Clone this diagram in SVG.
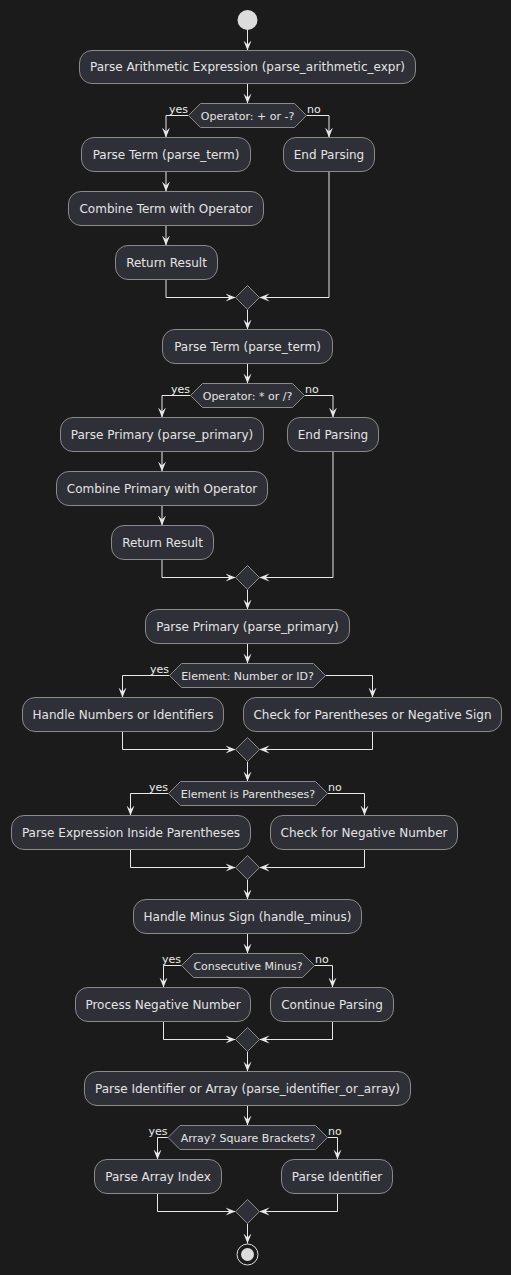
<svg xmlns="http://www.w3.org/2000/svg" width="511" height="1275" viewBox="0 0 511 1275">
<defs>
<marker id="ah" viewBox="0 0 10 10" refX="10" refY="5" markerWidth="10" markerHeight="10" markerUnits="userSpaceOnUse" orient="auto">
<path d="M0,1 L10,5 L0,9 L4,5 Z" fill="#e8e8e8"/>
</marker>
<style>
.bg{fill:#1b1b1c}
.box{fill:#2e2f37;stroke:#8a8a8a;stroke-width:1}
.t{font-family:"DejaVu Sans",sans-serif;font-size:12px;fill:#e4e4e4;text-anchor:middle}
.dt{font-family:"DejaVu Sans",sans-serif;font-size:11px;fill:#e4e4e4;text-anchor:middle}
.lbl{font-family:"DejaVu Sans",sans-serif;font-size:11px;fill:#ececec}
.e{text-anchor:end}
.c{fill:none;stroke:#e8e8e8;stroke-width:1;marker-end:url(#ah)}
</style>
</defs>
<rect class="bg" x="0" y="0" width="511" height="1275"/>

<g id="connectors">
<path class="c" d="M247.5,30 V50.5"/>
<path class="c" d="M247.5,83.5 V103.5"/>
<path class="c" d="M188.5,115.5 H166 V137.5"/>
<path class="c" d="M306.5,115.5 H329 V137.5"/>
<path class="c" d="M166,171.5 V191.5"/>
<path class="c" d="M166,225.5 V245.5"/>
<path class="c" d="M166,279.5 V297.5 H235.5"/>
<path class="c" d="M329,171.5 V297.5 H259.5"/>
<path class="c" d="M247.5,309.5 V329.5"/>

<path class="c" d="M247.5,363.5 V383.5"/>
<path class="c" d="M190.5,395.5 H162 V417.5"/>
<path class="c" d="M304.5,395.5 H333 V417.5"/>
<path class="c" d="M162,451.5 V471.5"/>
<path class="c" d="M162,505.5 V525.5"/>
<path class="c" d="M162,559.5 V577.5 H235.5"/>
<path class="c" d="M333,451.5 V577.5 H259.5"/>
<path class="c" d="M247.5,589.5 V609.5"/>

<path class="c" d="M247.5,643.5 V663.5"/>
<path class="c" d="M169.5,675.5 H122.5 V697.5"/>
<path class="c" d="M325,675.5 H372.5 V697.5"/>
<path class="c" d="M122.5,731.5 V749.5 H235.5"/>
<path class="c" d="M372.5,731.5 V749.5 H259.5"/>
<path class="c" d="M247.5,761.5 V781.5"/>

<path class="c" d="M168.5,793.5 H130.5 V815.5"/>
<path class="c" d="M327.5,793.5 H364.5 V815.5"/>
<path class="c" d="M130.5,849.5 V867.5 H235.5"/>
<path class="c" d="M364.5,849.5 V867.5 H259.5"/>
<path class="c" d="M247.5,879.5 V899.5"/>

<path class="c" d="M247.5,933.5 V953.5"/>
<path class="c" d="M181.5,965.5 H163.5 V987.5"/>
<path class="c" d="M314,965.5 H332.5 V987.5"/>
<path class="c" d="M163.5,1021.5 V1039.5 H235.5"/>
<path class="c" d="M332.5,1021.5 V1039.5 H259.5"/>
<path class="c" d="M247.5,1051.5 V1071.5"/>

<path class="c" d="M247.5,1105.5 V1125.5"/>
<path class="c" d="M168,1137.5 H157.5 V1159.5"/>
<path class="c" d="M327.5,1137.5 H337.5 V1159.5"/>
<path class="c" d="M157.5,1193.5 V1211.5 H235.5"/>
<path class="c" d="M337.5,1193.5 V1211.5 H259.5"/>
<path class="c" d="M247.5,1223.5 V1243.5"/>
</g>

<g id="labels">
<text class="lbl e" x="188" y="113">yes</text>
<text class="lbl" x="307" y="113">no</text>
<text class="lbl e" x="190" y="393">yes</text>
<text class="lbl" x="305" y="393">no</text>
<text class="lbl e" x="169" y="673">yes</text>
<text class="lbl e" x="168" y="791">yes</text>
<text class="lbl" x="328" y="791">no</text>
<text class="lbl e" x="181" y="963">yes</text>
<text class="lbl" x="315" y="963">no</text>
<text class="lbl e" x="167.5" y="1135">yes</text>
<text class="lbl" x="328" y="1135">no</text>
</g>

<g id="start"><circle cx="247.5" cy="20" r="10" fill="#dcdcdc"/></g>

<g id="n_parse_arith"><rect class="box" x="79.5" y="50.5" width="336" height="33" rx="12.5"/><text class="t" x="247.5" y="71">Parse Arithmetic Expression (parse_arithmetic_expr)</text></g>
<g id="d_op_plus"><polygon class="box" points="188.5,115.5 200.5,103.5 294.5,103.5 306.5,115.5 294.5,127.5 200.5,127.5"/><text class="dt" x="247.5" y="119.5">Operator: + or -?</text></g>
<g id="n_parse_term1"><rect class="box" x="81.5" y="137.5" width="169" height="34" rx="12.5"/><text class="t" x="166" y="158.5">Parse Term (parse_term)</text></g>
<g id="n_end1"><rect class="box" x="283.5" y="137.5" width="91" height="34" rx="12.5"/><text class="t" x="329" y="158.5">End Parsing</text></g>
<g id="n_combine_term"><rect class="box" x="68.5" y="191.5" width="195" height="34" rx="12.5"/><text class="t" x="166" y="212.5">Combine Term with Operator</text></g>
<g id="n_return1"><rect class="box" x="115.5" y="245.5" width="102" height="34" rx="12.5"/><text class="t" x="166.5" y="266.5">Return Result</text></g>
<g id="m1"><polygon class="box" points="247.5,285.5 259.5,297.5 247.5,309.5 235.5,297.5"/></g>

<g id="n_parse_term2"><rect class="box" x="162.5" y="329.5" width="170" height="34" rx="12.5"/><text class="t" x="247.5" y="350.5">Parse Term (parse_term)</text></g>
<g id="d_op_mul"><polygon class="box" points="190.5,395.5 202.5,383.5 292.5,383.5 304.5,395.5 292.5,407.5 202.5,407.5"/><text class="dt" x="247.5" y="399.5">Operator: * or /?</text></g>
<g id="n_parse_primary1"><rect class="box" x="60.5" y="417.5" width="203" height="34" rx="12.5"/><text class="t" x="162" y="438.5">Parse Primary (parse_primary)</text></g>
<g id="n_end2"><rect class="box" x="287.5" y="417.5" width="91" height="34" rx="12.5"/><text class="t" x="333" y="438.5">End Parsing</text></g>
<g id="n_combine_primary"><rect class="box" x="56.5" y="471.5" width="211" height="34" rx="12.5"/><text class="t" x="162" y="492.5">Combine Primary with Operator</text></g>
<g id="n_return2"><rect class="box" x="111.5" y="525.5" width="102" height="34" rx="12.5"/><text class="t" x="162.5" y="546.5">Return Result</text></g>
<g id="m2"><polygon class="box" points="247.5,565.5 259.5,577.5 247.5,589.5 235.5,577.5"/></g>

<g id="n_parse_primary2"><rect class="box" x="145.5" y="609.5" width="204" height="34" rx="12.5"/><text class="t" x="247.5" y="630.5">Parse Primary (parse_primary)</text></g>
<g id="d_element"><polygon class="box" points="169.5,675.5 181.5,663.5 313.5,663.5 325.5,675.5 313.5,687.5 181.5,687.5"/><text class="dt" x="247.5" y="679.5">Element: Number or ID?</text></g>
<g id="n_handle_numbers"><rect class="box" x="22.5" y="697.5" width="201" height="34" rx="12.5"/><text class="t" x="123" y="718.5">Handle Numbers or Identifiers</text></g>
<g id="n_check_paren"><rect class="box" x="243.5" y="697.5" width="258" height="34" rx="12.5"/><text class="t" x="372.5" y="718.5">Check for Parentheses or Negative Sign</text></g>
<g id="m3"><polygon class="box" points="247.5,737.5 259.5,749.5 247.5,761.5 235.5,749.5"/></g>

<g id="d_paren"><polygon class="box" points="168.5,793.5 180.5,781.5 315.5,781.5 327.5,793.5 315.5,805.5 180.5,805.5"/><text class="dt" x="248" y="797.5">Element is Parentheses?</text></g>
<g id="n_parse_expr_inside"><rect class="box" x="11.5" y="815.5" width="239" height="34" rx="12.5"/><text class="t" x="131" y="836.5">Parse Expression Inside Parentheses</text></g>
<g id="n_check_neg"><rect class="box" x="270.5" y="815.5" width="187" height="34" rx="12.5"/><text class="t" x="364" y="836.5">Check for Negative Number</text></g>
<g id="m4"><polygon class="box" points="247.5,855.5 259.5,867.5 247.5,879.5 235.5,867.5"/></g>

<g id="n_handle_minus"><rect class="box" x="133.5" y="899.5" width="228" height="34" rx="12.5"/><text class="t" x="247.5" y="920.5">Handle Minus Sign (handle_minus)</text></g>
<g id="d_consec"><polygon class="box" points="181.5,965.5 193.5,953.5 302.5,953.5 314.5,965.5 302.5,977.5 193.5,977.5"/><text class="dt" x="248" y="969.5">Consecutive Minus?</text></g>
<g id="n_process_neg"><rect class="box" x="75.5" y="987.5" width="175" height="34" rx="12.5"/><text class="t" x="163" y="1008.5">Process Negative Number</text></g>
<g id="n_continue"><rect class="box" x="270.5" y="987.5" width="123" height="34" rx="12.5"/><text class="t" x="332" y="1008.5">Continue Parsing</text></g>
<g id="m5"><polygon class="box" points="247.5,1027.5 259.5,1039.5 247.5,1051.5 235.5,1039.5"/></g>

<g id="n_parse_ident_arr"><rect class="box" x="84.5" y="1071.5" width="326" height="34" rx="12.5"/><text class="t" x="247.5" y="1092.5">Parse Identifier or Array (parse_identifier_or_array)</text></g>
<g id="d_array"><polygon class="box" points="168,1137.5 180,1125.5 315.5,1125.5 327.5,1137.5 315.5,1149.5 180,1149.5"/><text class="dt" x="248" y="1141.5">Array? Square Brackets?</text></g>
<g id="n_array_index"><rect class="box" x="94.5" y="1159.5" width="127" height="34" rx="12.5"/><text class="t" x="158" y="1180.5">Parse Array Index</text></g>
<g id="n_identifier"><rect class="box" x="281.5" y="1159.5" width="111" height="34" rx="12.5"/><text class="t" x="337" y="1180.5">Parse Identifier</text></g>
<g id="m6"><polygon class="box" points="247.5,1199.5 259.5,1211.5 247.5,1223.5 235.5,1211.5"/></g>

<g id="end"><circle cx="247.5" cy="1254.5" r="10.5" fill="none" stroke="#dcdcdc" stroke-width="1"/><circle cx="247.5" cy="1254.5" r="6.5" fill="#dcdcdc"/></g>
</svg>
